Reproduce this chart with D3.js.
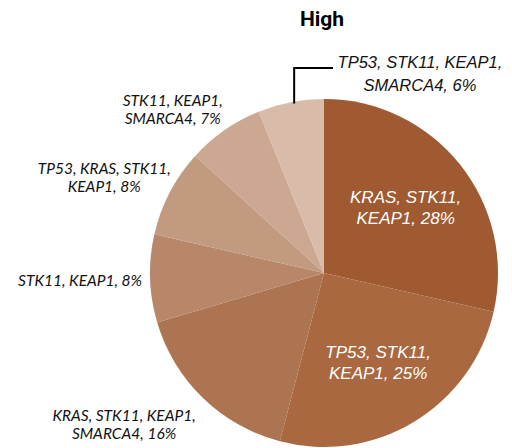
<!DOCTYPE html>
<html>
<head>
<meta charset="utf-8">
<script src="https://cdn.jsdelivr.net/npm/d3@7"></script>
<style>
  body { margin: 0; background: #fff; }
  svg { display: block; }
</style>
</head>
<body>
<svg id="chart" width="512" height="448"></svg>
<script>
const title = "High";
// slices, clockwise from 12 o'clock
const labels = [
  ["KRAS, STK11,", "KEAP1, 28%"],
  ["TP53, STK11,", "KEAP1, 25%"],
  ["KRAS, STK11, KEAP1,", "SMARCA4, 16%"],
  ["STK11, KEAP1, 8%"],
  ["TP53, KRAS, STK11,", "KEAP1, 8%"],
  ["STK11, KEAP1,", "SMARCA4, 7%"],
  ["TP53, STK11, KEAP1,", "SMARCA4, 6%"]
];
const values = [28, 25, 16, 8, 8, 7, 6];
const colors = ["#A05A32", "#A9683F", "#AC7450", "#B88668", "#C29A80", "#CCA893", "#D8BBA8"];

const svg = d3.select("#chart");
const cx = 324, cy = 273, radius = 174;

svg.append("text")
  .attr("x", 322).attr("y", 26)
  .attr("text-anchor", "middle")
  .style("font-family", "Roboto, 'Liberation Sans', sans-serif")
  .style("font-weight", "bold")
  .style("font-size", "21px")
  .text(title);

const pie = d3.pie().sort(null).value(d => d);
const arcs = pie(values);
const arc = d3.arc().innerRadius(0).outerRadius(radius);
const innerArc = d3.arc().innerRadius(radius * 0.6).outerRadius(radius * 0.6);
const outerArc = d3.arc().innerRadius(240).outerRadius(240);

const g = svg.append("g").attr("transform", `translate(${cx},${cy})`);

g.selectAll("path.slice")
  .data(arcs)
  .enter()
  .append("path")
  .attr("class", "slice")
  .attr("d", arc)
  .attr("fill", (d, i) => colors[i]);

// labels: first two inside in white, the rest outside
const nudge = [null, null, [-33, -21], [-4, 0], [-7, 16], [-14, 33], null];

arcs.forEach((d, i) => {
  let x, y, fill, family, size, lh;
  if (i < 2) {
    [x, y] = innerArc.centroid(d);
    fill = "#fff";
    family = "'Liberation Sans', Arial, sans-serif";
    size = 17; lh = 21;
  } else if (i === arcs.length - 1) {
    // leader line from the slice up to its label
    const a = (d.startAngle + d.endAngle) / 2 + 0.02;
    const px = radius * Math.sin(a);
    const py = -radius * Math.cos(a);
    g.append("path")
      .attr("d", `M${px},${py + 2}V${-205}H${9}`)
      .attr("fill", "none")
      .attr("stroke", "#000")
      .attr("stroke-width", 2);
    x = 96; y = -199;
    fill = "#111";
    family = "'Liberation Sans', Arial, sans-serif";
    size = 16.5; lh = 23;
  } else {
    [x, y] = outerArc.centroid(d);
    x += nudge[i][0]; y += nudge[i][1];
    fill = "#111";
    family = "Lato, 'Open Sans', sans-serif";
    size = 15.5; lh = 18;
  }
  const lines = labels[i];
  const t = g.append("text")
    .attr("text-anchor", "middle")
    .attr("fill", fill)
    .style("font-family", family)
    .style("font-style", "italic")
    .style("font-size", size + "px");
  lines.forEach((s, k) => {
    t.append("tspan")
      .attr("x", x)
      .attr("y", y + (k - (lines.length - 1) / 2) * lh + size * 0.35)
      .text(s);
  });
});
</script>
</body>
</html>
